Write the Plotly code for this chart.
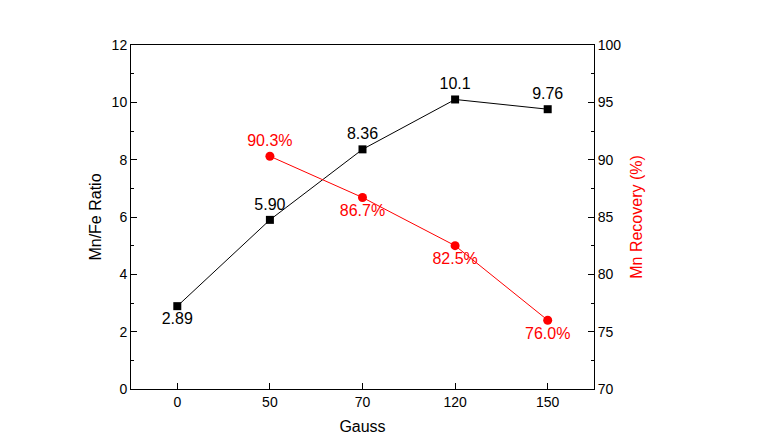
import plotly.graph_objects as go

gauss = ["0", "50", "70", "120", "150"]
ratio = [2.89, 5.90, 8.36, 10.1, 9.76]
ratio_labels = ["2.89", "5.90", "8.36", "10.1", "9.76"]
rec_x = ["50", "70", "120", "150"]
recovery = [90.3, 86.7, 82.5, 76.0]
rec_labels = ["90.3%", "86.7%", "82.5%", "76.0%"]

font = "Liberation Sans, Arial, sans-serif"
fig = go.Figure()
fig.add_trace(go.Scatter(
    x=gauss, y=ratio, mode="lines+markers+text",
    line=dict(color="black", width=1),
    marker=dict(symbol="square", size=8, color="black"),
    text=ratio_labels,
    textposition=["bottom center", "top center", "top center", "top center", "top center"],
    textfont=dict(size=16, color="black", family=font),
    showlegend=False, cliponaxis=False,
))
fig.add_trace(go.Scatter(
    x=rec_x, y=recovery, mode="lines+markers+text", yaxis="y2",
    line=dict(color="red", width=1),
    marker=dict(symbol="circle", size=9, color="red"),
    text=rec_labels,
    textposition=["top center", "bottom center", "bottom center", "bottom center"],
    textfont=dict(size=16, color="red", family=font),
    showlegend=False, cliponaxis=False,
))

axis_common = dict(showgrid=False, zeroline=False, showline=True, linecolor="black",
                   linewidth=1, ticks="inside", ticklen=6, tickcolor="black", automargin=False,
                   tickfont=dict(size=14, color="black", family=font))
fig.update_layout(
    width=765, height=441,
    margin=dict(l=131, r=171, t=45, b=52),
    plot_bgcolor="white", paper_bgcolor="white",
    font=dict(family=font, color="black"),
    xaxis=dict(**axis_common, type="category", categoryorder="array", categoryarray=gauss,
               range=[-0.5, 4.5], mirror=True,
               title=dict(text="Gauss", font=dict(size=16, family=font), standoff=12)),
    yaxis=dict(**axis_common, range=[0, 12], tickvals=[0, 2, 4, 6, 8, 10, 12],
               minor=dict(ticks="inside", ticklen=3, tickvals=[1, 3, 5, 7, 9, 11], tickcolor="black"),
               title=dict(text="Mn/Fe Ratio", font=dict(size=16, family=font), standoff=6)),
    yaxis2=dict(**axis_common, overlaying="y", side="right", range=[70, 100],
                tickvals=[70, 75, 80, 85, 90, 95, 100],
                minor=dict(ticks="inside", ticklen=3, tickvals=[72.5, 77.5, 82.5, 87.5, 92.5, 97.5], tickcolor="black"),
                title=dict(text="Mn Recovery (%)", font=dict(size=16, color="red", family=font), standoff=10)),
)
fig.write_html("out.html")
